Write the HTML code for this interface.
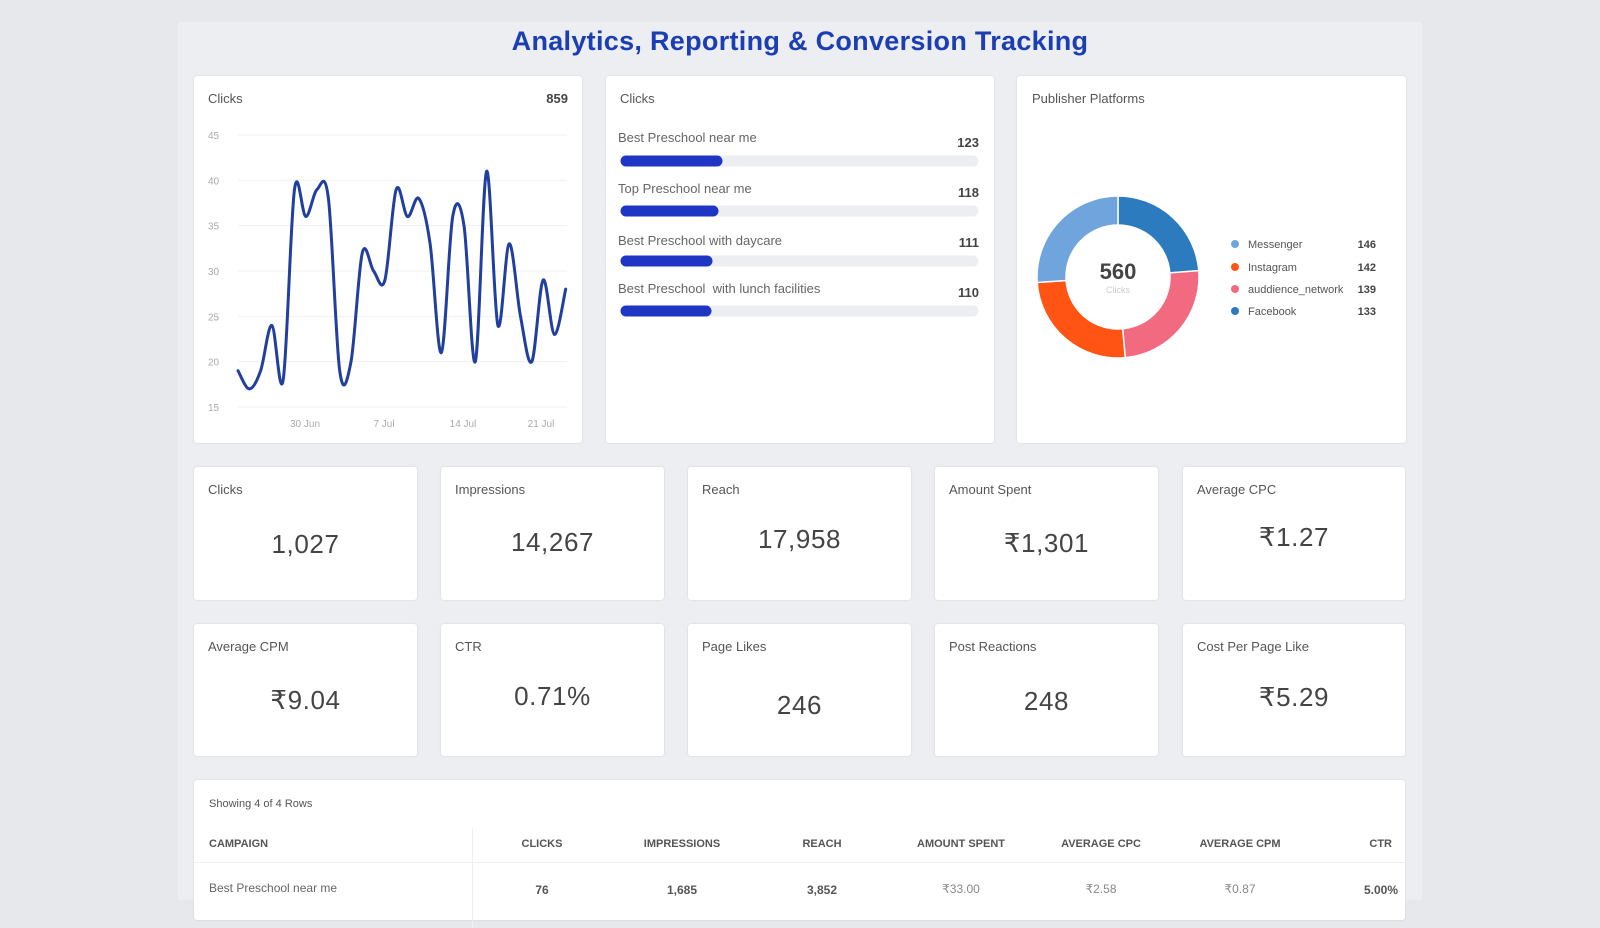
<!DOCTYPE html>
<html><head><meta charset="utf-8"><style>
*{margin:0;padding:0;box-sizing:border-box}
body{width:1600px;height:900px;background:#e7e8ec;font-family:"Liberation Sans",sans-serif;position:relative;overflow:hidden;color:#555}
.panel{position:absolute;left:178px;top:22px;width:1244px;height:878px;background:#eceef1}
.title{position:absolute;left:0;width:1600px;top:26px;text-align:center;font-size:27px;font-weight:bold;color:#1b3fb3;letter-spacing:0.3px}
.card{position:absolute;background:#fff;border-radius:3px;box-shadow:0 0 2px rgba(0,0,0,0.12)}
.ct{position:absolute;left:14px;top:15px;font-size:13px;color:#555}
.val{position:absolute;left:0;right:0;text-align:center;font-size:26px;color:#444;letter-spacing:0.6px}
.abs{position:absolute}
</style></head><body>
<div class="panel"></div>
<div class="title">Analytics, Reporting &amp; Conversion Tracking</div>

<div class="card" style="left:194px;top:76px;width:388px;height:367px"></div>
<div class="card" style="left:606px;top:76px;width:388px;height:367px"></div>
<div class="card" style="left:1017px;top:76px;width:389px;height:367px"></div>

<svg class="abs" style="left:0;top:0" width="1600" height="900">
<g font-family="Liberation Sans" font-size="13" fill="#555">
<text x="208" y="103">Clicks</text>
<text x="568" y="103" text-anchor="end" font-weight="bold" fill="#444">859</text>
<text x="620" y="103">Clicks</text>
<text x="1032" y="103">Publisher Platforms</text>
</g>
<g stroke="#f0f0f0" stroke-width="1" id="grid"></g>
<g font-family="Liberation Sans" font-size="10" fill="#aaa" id="ylab"></g>
<g font-family="Liberation Sans" font-size="10" fill="#aaa" text-anchor="middle">
<text x="305" y="427">30 Jun</text><text x="384" y="427">7 Jul</text><text x="463" y="427">14 Jul</text><text x="541" y="427">21 Jul</text>
</g>
<path id="line" fill="none" stroke="#213f9e" stroke-width="3" stroke-linejoin="round" stroke-linecap="round"/>

<g font-family="Liberation Sans" font-size="13" fill="#666">
<text x="618" y="142">Best Preschool near me</text>
<text x="618" y="193">Top Preschool near me</text>
<text x="618" y="245">Best Preschool with daycare</text>
<text x="618" y="293">Best Preschool&#160; with lunch facilities</text>
</g>
<g font-family="Liberation Sans" font-size="13" fill="#444" font-weight="bold" text-anchor="end">
<text x="979" y="147">123</text><text x="979" y="197">118</text><text x="979" y="247">111</text><text x="979" y="297">110</text>
</g>
<g stroke-linecap="round" stroke-width="11">
<line x1="626" y1="161" x2="973" y2="161" stroke="#eceef1"/><line x1="626" y1="161" x2="717" y2="161" stroke="#1f35c4"/>
<line x1="626" y1="211" x2="973" y2="211" stroke="#eceef1"/><line x1="626" y1="211" x2="713" y2="211" stroke="#1f35c4"/>
<line x1="626" y1="261" x2="973" y2="261" stroke="#eceef1"/><line x1="626" y1="261" x2="707" y2="261" stroke="#1f35c4"/>
<line x1="626" y1="311" x2="973" y2="311" stroke="#eceef1"/><line x1="626" y1="311" x2="706" y2="311" stroke="#1f35c4"/>
</g>
<g id="donut"></g>
<text x="1118" y="279" text-anchor="middle" font-family="Liberation Sans" font-size="22" font-weight="bold" fill="#444">560</text>
<text x="1118" y="293" text-anchor="middle" font-family="Liberation Sans" font-size="9" fill="#ccc">Clicks</text>
<g font-family="Liberation Sans" font-size="11" fill="#555">
<circle cx="1235" cy="244" r="4" fill="#6fa5dc"/><text x="1248" y="248">Messenger</text>
<circle cx="1235" cy="267" r="4" fill="#ff5414"/><text x="1248" y="271">Instagram</text>
<circle cx="1235" cy="289" r="4" fill="#f26a80"/><text x="1248" y="293">auddience_network</text>
<circle cx="1235" cy="311" r="4" fill="#2c7bbf"/><text x="1248" y="315">Facebook</text>
</g>
<g font-family="Liberation Sans" font-size="11" fill="#444" font-weight="bold" text-anchor="end">
<text x="1376" y="248">146</text><text x="1376" y="271">142</text><text x="1376" y="293">139</text><text x="1376" y="315">133</text>
</g>
</svg>

<div class="card" style="left:194px;top:467px;width:223px;height:133px"><div class="ct">Clicks</div><div class="val" style="top:62px">1,027</div></div>
<div class="card" style="left:441px;top:467px;width:223px;height:133px"><div class="ct">Impressions</div><div class="val" style="top:60px">14,267</div></div>
<div class="card" style="left:688px;top:467px;width:223px;height:133px"><div class="ct">Reach</div><div class="val" style="top:57px">17,958</div></div>
<div class="card" style="left:935px;top:467px;width:223px;height:133px"><div class="ct">Amount Spent</div><div class="val" style="top:61px">₹1,301</div></div>
<div class="card" style="left:1183px;top:467px;width:222px;height:133px"><div class="ct">Average CPC</div><div class="val" style="top:55px">₹1.27</div></div>

<div class="card" style="left:194px;top:624px;width:223px;height:132px"><div class="ct">Average CPM</div><div class="val" style="top:61px">₹9.04</div></div>
<div class="card" style="left:441px;top:624px;width:223px;height:132px"><div class="ct">CTR</div><div class="val" style="top:57px">0.71%</div></div>
<div class="card" style="left:688px;top:624px;width:223px;height:132px"><div class="ct">Page Likes</div><div class="val" style="top:66px">246</div></div>
<div class="card" style="left:935px;top:624px;width:223px;height:132px"><div class="ct">Post Reactions</div><div class="val" style="top:62px">248</div></div>
<div class="card" style="left:1183px;top:624px;width:222px;height:132px"><div class="ct">Cost Per Page Like</div><div class="val" style="top:58px">₹5.29</div></div>

<div class="card" style="left:194px;top:780px;width:1211px;height:140px">
 <div class="abs" style="left:15px;top:18px;font-size:11px;color:#555">Showing 4 of 4 Rows</div>
 <div class="abs" style="left:278px;top:48px;width:1px;height:100px;background:#f0f0f0"></div>
 <div class="abs" style="left:0;top:82px;width:1211px;height:1px;background:#f0f0f0"></div>
 <div class="abs" style="left:15px;top:58px;font-size:11px;font-weight:bold;color:#555">CAMPAIGN</div>
 <div class="abs" style="left:15px;top:101px;font-size:12px;color:#666">Best Preschool near me</div>
</div>
<svg class="abs" style="left:0;top:0" width="1600" height="900">
<g font-family="Liberation Sans" font-size="11" font-weight="bold" fill="#555" text-anchor="middle">
<text x="542" y="847">CLICKS</text><text x="682" y="847">IMPRESSIONS</text><text x="822" y="847">REACH</text><text x="961" y="847">AMOUNT SPENT</text><text x="1101" y="847">AVERAGE CPC</text><text x="1240" y="847">AVERAGE CPM</text><text x="1392" y="847" text-anchor="end">CTR</text>
</g>
<g font-family="Liberation Sans" font-size="12" fill="#555" text-anchor="middle">
<text x="542" y="894" font-weight="bold">76</text><text x="682" y="894" font-weight="bold">1,685</text><text x="822" y="894" font-weight="bold">3,852</text><text x="961" y="893" fill="#888">₹33.00</text><text x="1101" y="893" fill="#888">₹2.58</text><text x="1240" y="893" fill="#888">₹0.87</text><text x="1398" y="894" text-anchor="end" font-weight="bold">5.00%</text>
</g>
</svg>
<div class="abs" style="left:0;top:0;width:178px;height:900px;background:#e7e8ec"></div>
<div class="abs" style="left:1422px;top:0;width:178px;height:900px;background:#e7e8ec"></div>

<script>
var ns="http://www.w3.org/2000/svg";
function Y(v){return 407-(v-15)*9.067;}
var g=document.getElementById('grid'),yl=document.getElementById('ylab');
for(var v=15;v<=45;v+=5){var l=document.createElementNS(ns,'line');l.setAttribute('x1',238);l.setAttribute('x2',567);l.setAttribute('y1',Y(v));l.setAttribute('y2',Y(v));g.appendChild(l);
var t=document.createElementNS(ns,'text');t.setAttribute('x',208);t.setAttribute('y',Y(v)+4);t.textContent=v;yl.appendChild(t);}
var d=[19,17,19,24,18,39,36,39,38,19,20,32,30,29,39,36,38,33,21,36,35,20,41,24,33,25,20,29,23,28];
var p=d.map(function(v,i){return [238+i*11.3,Y(v)];});
var s="M"+p[0][0]+","+p[0][1];
for(var i=0;i<p.length-1;i++){var p0=p[i-1]||p[i],p1=p[i],p2=p[i+1],p3=p[i+2]||p2;
s+=" C"+(p1[0]+(p2[0]-p0[0])/6)+","+(p1[1]+(p2[1]-p0[1])/6)+" "+(p2[0]-(p3[0]-p1[0])/6)+","+(p2[1]-(p3[1]-p1[1])/6)+" "+p2[0]+","+p2[1];}
document.getElementById('line').setAttribute('d',s);
var dn=document.getElementById('donut'),cx=1118,cy=277,R=81,r=52;
var segs=[[133,'#2c7bbf'],[139,'#f26a80'],[142,'#ff5414'],[146,'#6fa5dc']],a=0;
segs.forEach(function(sg){var b=a+sg[0]/560*2*Math.PI;
function pt(rad,ang){return (cx+rad*Math.sin(ang))+","+(cy-rad*Math.cos(ang));}
var lg=(b-a)>Math.PI?1:0;
var pa=document.createElementNS(ns,'path');
pa.setAttribute('d',"M"+pt(R,a)+" A"+R+","+R+" 0 "+lg+" 1 "+pt(R,b)+" L"+pt(r,b)+" A"+r+","+r+" 0 "+lg+" 0 "+pt(r,a)+"Z");
pa.setAttribute('fill',sg[1]);pa.setAttribute('stroke','#fff');pa.setAttribute('stroke-width','1.5');dn.appendChild(pa);a=b;});
</script>
</body></html>
